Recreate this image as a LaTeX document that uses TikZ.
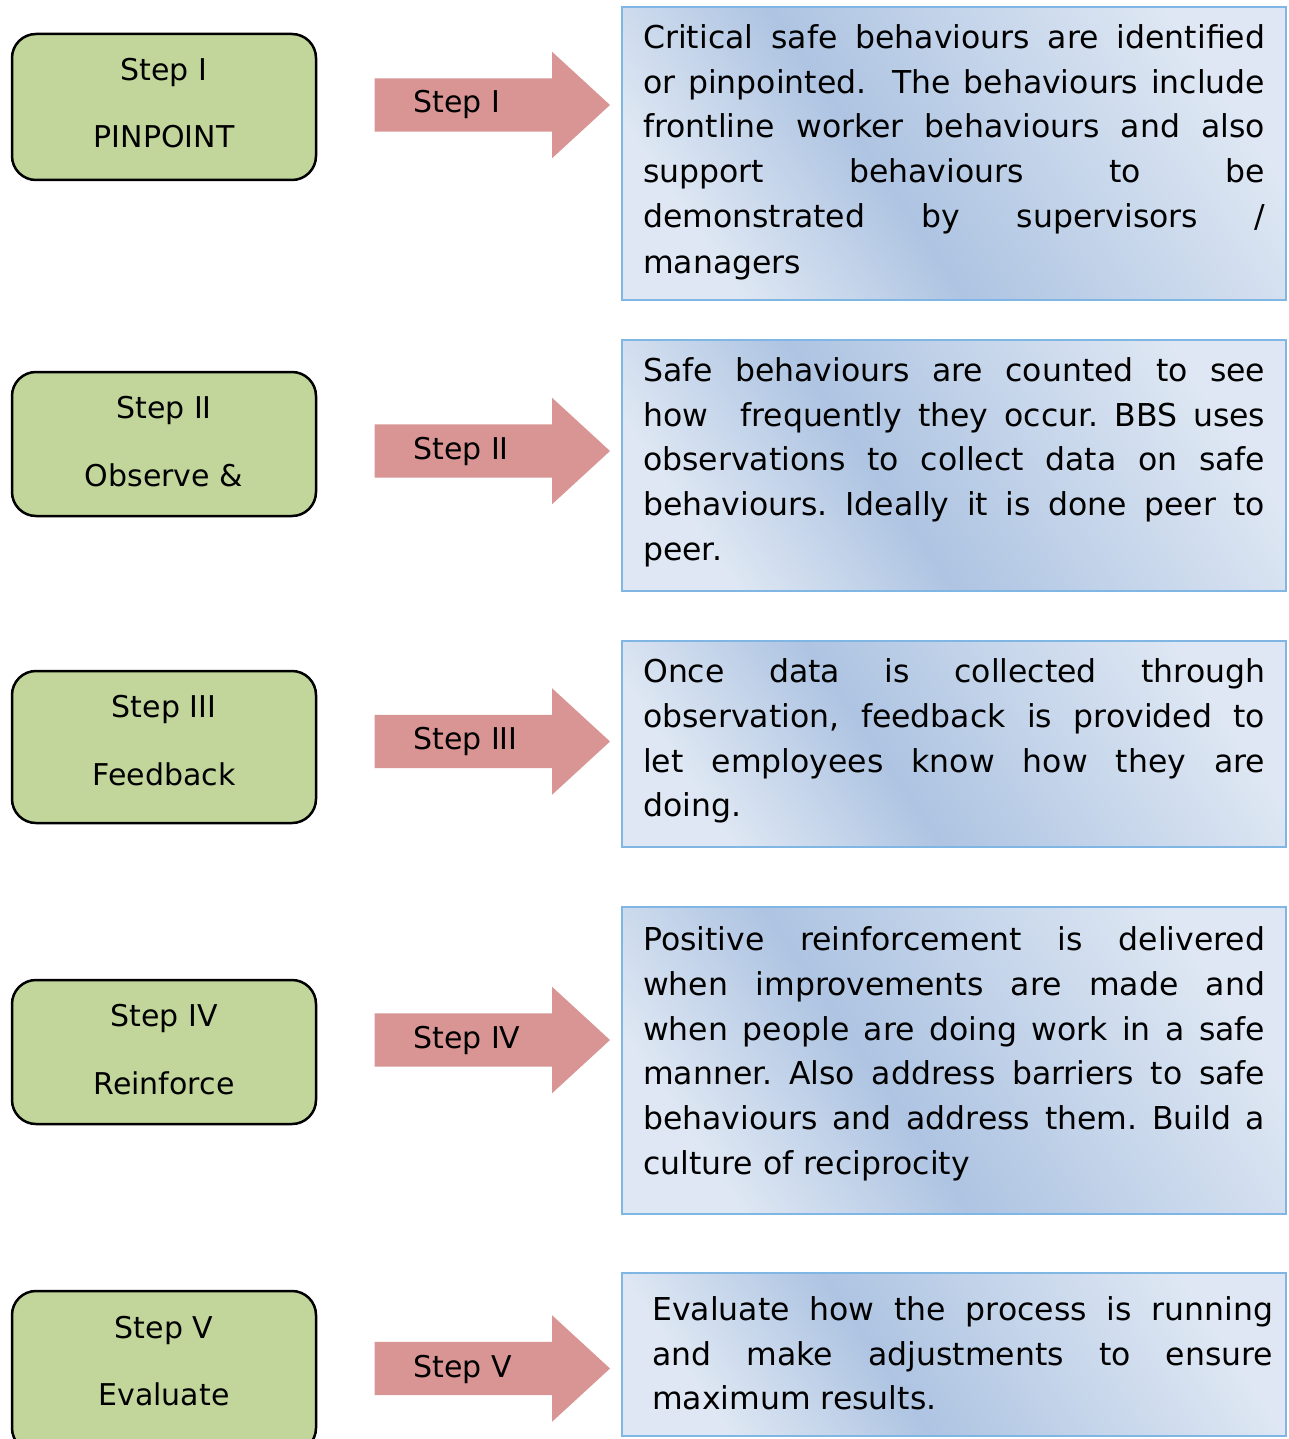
\documentclass[tikz,border=0pt]{standalone}
\usepackage{fontspec}
\setmainfont{DejaVu Sans}
\definecolor{stepgreen}{RGB}{194,214,155}
\definecolor{arrowred}{RGB}{217,149,148}
\definecolor{boxline}{RGB}{128,182,228}
\definecolor{blight}{RGB}{222,231,243}
\definecolor{bdark}{RGB}{174,196,226}
\pgfdeclareverticalshading{bandshade}{100bp}{color(0bp)=(blight); color(25bp)=(blight); color(43bp)=(bdark); color(75bp)=(blight); color(100bp)=(blight)}
\newcommand\myjust[2][622pt]{\makebox[#1][s]{#2}}
\frenchspacing
\begin{document}
\begin{tikzpicture}[x=1pt,y=-1pt,
  stepbox/.style={draw=black, line width=2.5pt, fill=stepgreen, rounded corners=24pt},
  steptext/.style={anchor=base, inner sep=0pt, font=\fontsize{30}{36}\selectfont},
  arrowlabel/.style={anchor=base west, inner sep=0pt, font=\fontsize{30}{36}\selectfont},
  infobox/.style={draw=boxline, line width=2.5pt, shading=bandshade, shading angle=-56},
  infoline/.style={anchor=base west, inner sep=0pt, font=\fontsize{31.5}{38}\selectfont},
  bigarrow/.style={fill=arrowred, draw=none}]
\useasboundingbox (0,0) rectangle (1288,1439);
\fill[white] (0,0) rectangle (1288,1439);
\clip (0,0) rectangle (1288,1439);

% green step boxes
\path[stepbox] (12,34) rectangle (316,180);
\path[stepbox] (12,372) rectangle (316,516);
\path[stepbox] (12,671) rectangle (316,823);
\path[stepbox] (12,980) rectangle (316,1124);
\path[stepbox] (12,1291) rectangle (316,1452);

\node[steptext] (s1a) at (164,81) {Step I};
\node[steptext] (s1b) at (164,148) {PINPOINT};
\node[steptext] (s2a) at (164,418) {Step II};
\node[steptext] (s2b) at (164,486) {Observe \&};
\node[steptext] (s3a) at (164,717) {Step III};
\node[steptext] (s3b) at (164,785) {Feedback};
\node[steptext] (s4a) at (164,1026) {Step IV};
\node[steptext] (s4b) at (164,1094) {Reinforce};
\node[steptext] (s5a) at (164,1338) {Step V};
\node[steptext] (s5b) at (164,1405) {Evaluate};

% block arrows
\foreach \cy in {105,451,741.5,1040,1368.5}{
  \path[bigarrow] (374.5,\cy-26.7) -- (552,\cy-26.7) -- (552,\cy-53.3) -- (610,\cy)
     -- (552,\cy+53.3) -- (552,\cy+26.7) -- (374.5,\cy+26.7) -- cycle;
}
\node[arrowlabel] (a1) at (413,113) {Step I};
\node[arrowlabel] (a2) at (413,459.5) {Step II};
\node[arrowlabel] (a3) at (413,749.5) {Step III};
\node[arrowlabel] (a4) at (413,1048) {Step IV};
\node[arrowlabel] (a5) at (413,1377) {Step V};

% description boxes
\path[infobox] (622,7) rectangle (1286,300);
\path[infobox] (622,340) rectangle (1286,591);
\path[infobox] (622,641) rectangle (1286,847);
\path[infobox] (622,907) rectangle (1286,1214);
\path[infobox] (622,1273) rectangle (1286,1436);

\node[infoline] (d1a) at (643,49) {\myjust{Critical safe behaviours are identified}};
\node[infoline] (d1b) at (643,94) {\myjust{or pinpointed.\ \ The behaviours include}};
\node[infoline] (d1c) at (643,138) {\myjust{frontline worker behaviours and also}};
\node[infoline] (d1d) at (643,183) {\myjust{support behaviours to be}};
\node[infoline] (d1e) at (643,228) {\myjust{demonstrated by supervisors /}};
\node[infoline] (d1f) at (643,273) {managers};

\node[infoline] (d2a) at (643,381) {\myjust{Safe behaviours are counted to see}};
\node[infoline] (d2b) at (643,426) {\myjust{how\ \ frequently they occur. BBS uses}};
\node[infoline] (d2c) at (643,470) {\myjust{observations to collect data on safe}};
\node[infoline] (d2d) at (643,515) {\myjust{behaviours. Ideally it is done peer to}};
\node[infoline] (d2e) at (643,560) {peer.};

\node[infoline] (d3a) at (643,682) {\myjust{Once data is collected through}};
\node[infoline] (d3b) at (643,727) {\myjust{observation, feedback is provided to}};
\node[infoline] (d3c) at (643,772) {\myjust{let employees know how they are}};
\node[infoline] (d3d) at (643,816) {doing.};

\node[infoline] (d4a) at (643,950) {\myjust{Positive reinforcement is delivered}};
\node[infoline] (d4b) at (643,995) {\myjust{when improvements are made and}};
\node[infoline] (d4c) at (643,1040) {\myjust{when people are doing work in a safe}};
\node[infoline] (d4d) at (643,1084) {\myjust{manner. Also address barriers to safe}};
\node[infoline] (d4e) at (643,1129) {\myjust{behaviours and address them. Build a}};
\node[infoline] (d4f) at (643,1174) {culture of reciprocity};

\node[infoline] (d5a) at (652,1320) {\myjust[621pt]{Evaluate how the process is running}};
\node[infoline] (d5b) at (652,1365) {\myjust[621pt]{and make adjustments to ensure}};
\node[infoline] (d5c) at (652,1409) {maximum results.};
\end{tikzpicture}
\end{document}
